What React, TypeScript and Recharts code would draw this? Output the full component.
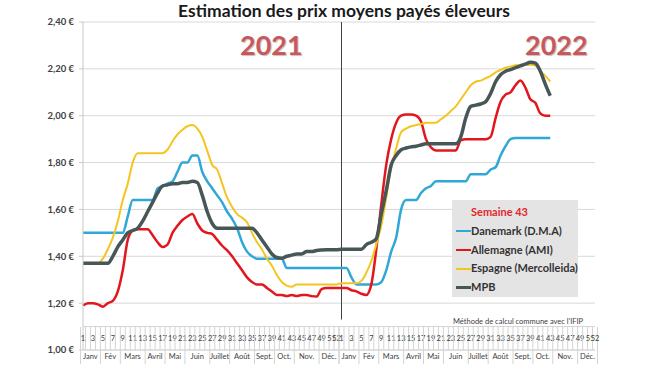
import React from 'react';
import {
  LineChart,
  Line,
  XAxis,
  YAxis,
  CartesianGrid,
  Legend,
  ReferenceLine,
} from 'recharts';

// Weekly prices (€/kg), 2021 full year and 2022 up to week 43
const DANEMARK_2021 = [
  1.5, 1.5, 1.5, 1.5, 1.5, 1.5, 1.5, 1.5, 1.5, 1.57,
  1.64, 1.64, 1.64, 1.64, 1.64, 1.69, 1.7, 1.71, 1.72, 1.76,
  1.8, 1.8, 1.83, 1.83, 1.76, 1.72, 1.69, 1.66, 1.63, 1.59,
  1.56, 1.52, 1.46, 1.42, 1.4, 1.39, 1.39, 1.39, 1.39, 1.39,
  1.39, 1.35, 1.35, 1.35, 1.35, 1.35, 1.35, 1.35, 1.35, 1.35,
  1.35, 1.35,
];
const DANEMARK_2022 = [
  1.35, 1.35, 1.31, 1.28, 1.28, 1.28, 1.28, 1.28, 1.29, 1.34,
  1.42, 1.48, 1.6, 1.64, 1.64, 1.64, 1.67, 1.69, 1.7, 1.72,
  1.72, 1.72, 1.72, 1.72, 1.72, 1.72, 1.75, 1.75, 1.75, 1.75,
  1.77, 1.78, 1.83, 1.87, 1.9, 1.905, 1.905, 1.905, 1.905, 1.905,
  1.905, 1.905, 1.905,
];
const ALLEMAGNE_2021 = [
  1.19, 1.2, 1.2, 1.195, 1.185, 1.2, 1.21, 1.25, 1.34, 1.47,
  1.51, 1.515, 1.515, 1.515, 1.49, 1.46, 1.44, 1.45, 1.5, 1.53,
  1.555, 1.57, 1.58, 1.54, 1.51, 1.5, 1.495, 1.47, 1.445, 1.425,
  1.4, 1.37, 1.34, 1.31, 1.29, 1.28, 1.28, 1.265, 1.25, 1.235,
  1.235, 1.23, 1.235, 1.23, 1.235, 1.235, 1.23, 1.228, 1.26, 1.265,
  1.265, 1.265,
];
const ALLEMAGNE_2022 = [
  1.265, 1.265, 1.255, 1.25, 1.24, 1.235, 1.28, 1.43, 1.62, 1.79,
  1.9, 1.97, 2.0, 2.005, 2.005, 2.0, 1.975, 1.9, 1.865, 1.852,
  1.852, 1.852, 1.852, 1.852, 1.895, 1.9, 1.9, 1.9, 1.9, 1.9,
  1.91, 1.99, 2.06, 2.09, 2.1, 2.13, 2.15, 2.12, 2.07, 2.055,
  2.01, 2.0, 2.0,
];
const ESPAGNE_2021 = [
  1.37, 1.37, 1.37, 1.37, 1.39, 1.43, 1.48, 1.55, 1.64, 1.71,
  1.8, 1.84, 1.84, 1.84, 1.84, 1.84, 1.84, 1.855, 1.89, 1.92,
  1.94, 1.955, 1.96, 1.945, 1.91, 1.85, 1.79, 1.77, 1.71, 1.65,
  1.61, 1.58, 1.565, 1.545, 1.5, 1.46, 1.43, 1.39, 1.36, 1.32,
  1.29, 1.275, 1.27, 1.28, 1.28, 1.28, 1.28, 1.28, 1.28, 1.28,
  1.28, 1.28,
];
const ESPAGNE_2022 = [
  1.285, 1.285, 1.285, 1.285, 1.295, 1.33, 1.38, 1.45, 1.53, 1.65,
  1.78, 1.86, 1.93, 1.945, 1.955, 1.96, 1.965, 1.97, 1.97, 1.97,
  1.985, 2.0, 2.02, 2.04, 2.07, 2.1, 2.13, 2.145, 2.15, 2.16,
  2.17, 2.185, 2.195, 2.205, 2.21, 2.215, 2.218, 2.218, 2.218, 2.214,
  2.19, 2.17, 2.146,
];
const MPB_2021 = [
  1.37, 1.37, 1.37, 1.37, 1.37, 1.37, 1.4, 1.44, 1.47, 1.5,
  1.51, 1.52, 1.55, 1.59, 1.63, 1.67, 1.7, 1.705, 1.71, 1.71,
  1.715, 1.715, 1.72, 1.715, 1.66, 1.59, 1.54, 1.52, 1.52, 1.52,
  1.52, 1.52, 1.52, 1.52, 1.52, 1.5, 1.47, 1.44, 1.41, 1.395,
  1.392, 1.4, 1.405, 1.41, 1.41, 1.42, 1.42, 1.425, 1.427, 1.428,
  1.428, 1.428,
];
const MPB_2022 = [
  1.43, 1.43, 1.43, 1.43, 1.43, 1.45, 1.46, 1.475, 1.58, 1.68,
  1.79, 1.83, 1.855, 1.862, 1.867, 1.87, 1.875, 1.88, 1.88, 1.88,
  1.88, 1.88, 1.88, 1.88, 1.91, 1.99, 2.04, 2.045, 2.05, 2.06,
  2.095, 2.145, 2.175, 2.19, 2.197, 2.205, 2.213, 2.22, 2.228, 2.224,
  2.19, 2.135, 2.085,
];

const YEARS = ['2021', '2022'];
const MONTHS = ['Janv', 'Fév', 'Mars', 'Avril', 'Mai', 'Juin', 'Juillet', 'Août', 'Sept.', 'Oct.', 'Nov.', 'Déc.'];
const MONTH_WEEKS = [4, 4, 5, 4, 4, 5, 4, 5, 4, 4, 5, 4];
const Y_TICKS = [1.0, 1.2, 1.4, 1.6, 1.8, 2.0, 2.2, 2.4];

const SERIES = [
  { key: 'danemark', name: 'Danemark (D.M.A)', color: '#2fa8d8', width: 2.5, v21: DANEMARK_2021, v22: DANEMARK_2022 },
  { key: 'allemagne', name: 'Allemagne (AMI)', color: '#e3161d', width: 2.5, v21: ALLEMAGNE_2021, v22: ALLEMAGNE_2022 },
  { key: 'espagne', name: 'Espagne (Mercolleida)', color: '#f4c520', width: 2, v21: ESPAGNE_2021, v22: ESPAGNE_2022 },
  { key: 'mpb', name: 'MPB', color: '#475656', width: 3.5, v21: MPB_2021, v22: MPB_2022 },
];

const WEEKS_PER_YEAR = MONTH_WEEKS.reduce((a, b) => a + b, 0);
const MONTH_START: number[] = [];
MONTH_WEEKS.reduce((start, n) => {
  MONTH_START.push(start);
  return start + n;
}, 1);

const data = YEARS.flatMap((year) =>
  Array.from({ length: WEEKS_PER_YEAR }, (_, i) => {
    const row: Record<string, any> = { key: `${year}-${i + 1}` };
    SERIES.forEach((s) => {
      const vals = year === '2021' ? s.v21 : s.v22;
      row[s.key] = vals[i] ?? null;
    });
    return row;
  })
);

const W = 650;
const H = 366;
const MARGIN = { top: 22, right: 55, bottom: 0, left: 0 };
const Y_AXIS_W = 83;
const X_AXIS_H = 16;
const BAND = (W - MARGIN.left - MARGIN.right - Y_AXIS_W) / data.length;
const FONT = 'Lato, "Open Sans", sans-serif';

const fmtEuro = (v: number) => `${v.toFixed(2).replace('.', ',')} €`;

const WeekTick = (props: any) => {
  const { x, y, payload } = props;
  const week = Number(String(payload.value).split('-')[1]);
  const showNum = week % 2 === 1 || week === WEEKS_PER_YEAR;
  const m = MONTH_START.indexOf(week);
  const left = x - BAND / 2;
  return (
    <g>
      <line x1={left} x2={left} y1={y - 23} y2={y} stroke="#d4d4d4" />
      {week === WEEKS_PER_YEAR && (
        <line x1={x + BAND / 2} x2={x + BAND / 2} y1={y - 23} y2={y + 14} stroke="#d4d4d4" />
      )}
      {showNum && (
        <text x={x} y={y - 9} textAnchor="middle" fontSize={7.5} fill="#404040" fontFamily={FONT}>
          {week}
        </text>
      )}
      {m >= 0 && (
        <g>
          <line x1={left} x2={left} y1={y} y2={y + 14} stroke="#d4d4d4" />
          <text
            x={left + (MONTH_WEEKS[m] * BAND) / 2}
            y={y + 9}
            textAnchor="middle"
            fontSize={7.5}
            fill="#404040"
            fontFamily={FONT}
          >
            {MONTHS[m]}
          </text>
        </g>
      )}
    </g>
  );
};

const LegendBox = ({ payload }: any) => {
  const items = SERIES.map((s) => (payload || []).find((p: any) => p.dataKey === s.key)).filter(Boolean);
  return (
    <div
      style={{
        background: '#e4e4e4',
        width: 126,
        height: 97,
        boxSizing: 'border-box',
        padding: '3px 0 0 4px',
        fontFamily: FONT,
        fontWeight: 700,
        fontSize: 11,
        color: '#333',
        lineHeight: '18.8px',
      }}
    >
      <div style={{ color: '#e3262b', paddingLeft: 15 }}>Semaine 43</div>
      {items.map((p: any) => (
        <div key={p.value} style={{ display: 'flex', alignItems: 'center', whiteSpace: 'nowrap' }}>
          <span style={{ display: 'inline-block', width: 15, height: 2.5, background: p.color }} />
          <span>{p.value}</span>
        </div>
      ))}
    </div>
  );
};

const yearLabel: React.CSSProperties = {
  position: 'absolute',
  top: 30,
  fontFamily: FONT,
  fontWeight: 700,
  fontSize: 27,
  color: '#c8585d',
  textShadow: '1px 1px 1px rgba(0,0,0,0.25)',
  lineHeight: '30px',
};

export default function App() {
  return (
    <div style={{ position: 'relative', width: W, height: H, background: '#fff' }}>
      <style>{'body{margin:0}'}</style>
      <div
        style={{
          position: 'absolute',
          top: 0,
          left: 0,
          width: W,
          textAlign: 'center',
          paddingLeft: 38,
          boxSizing: 'border-box',
          fontFamily: FONT,
          fontWeight: 700,
          fontSize: 17.5,
          lineHeight: '22px',
          color: '#1a1a1a',
        }}
      >
        Estimation des prix moyens payés éleveurs
      </div>
      <LineChart width={W} height={H} data={data} margin={MARGIN}>
        <CartesianGrid vertical={false} stroke="#d9d9d9" />
        <XAxis
          dataKey="key"
          interval={0}
          height={X_AXIS_H}
          tickSize={0}
          tickMargin={0}
          tickLine={false}
          axisLine={{ stroke: '#d4d4d4' }}
          tick={(p: any) => <WeekTick {...p} />}
        />
        <YAxis
          width={Y_AXIS_W}
          domain={[1, 2.4]}
          ticks={Y_TICKS}
          tickFormatter={fmtEuro}
          tickSize={4}
          tickMargin={5}
          axisLine={{ stroke: '#c8c8c8' }}
          tickLine={{ stroke: '#c8c8c8' }}
          tick={{ fontSize: 9.5, fontWeight: 700, fill: '#404040', fontFamily: FONT }}
        />
        <ReferenceLine y={1.1} stroke="#d4d4d4" />
        <ReferenceLine
          segment={[
            { x: '2022-1', y: 1.13 },
            { x: '2022-1', y: 2.4 },
          ]}
          position="start"
          stroke="#404040"
          strokeWidth={1}
        />
        {SERIES.map((s) => (
          <Line
            key={s.key}
            type="monotone"
            dataKey={s.key}
            name={s.name}
            stroke={s.color}
            strokeWidth={s.width}
            dot={false}
            activeDot={false}
            connectNulls={false}
            isAnimationActive={false}
          />
        ))}
        <Legend
          layout="horizontal"
          align="center"
          verticalAlign="middle"
          content={(p: any) => <LegendBox {...p} />}
          wrapperStyle={{ position: 'absolute', left: 452, top: 200, width: 126, height: 97 }}
        />
      </LineChart>
      <div style={{ ...yearLabel, left: 240 }}>2021</div>
      <div style={{ ...yearLabel, left: 525 }}>2022</div>
      <div
        style={{
          position: 'absolute',
          left: 453,
          top: 317,
          fontFamily: FONT,
          fontSize: 7.5,
          color: '#404040',
          whiteSpace: 'nowrap',
        }}
      >
        Méthode de calcul commune avec l'IFIP
      </div>
    </div>
  );
}
